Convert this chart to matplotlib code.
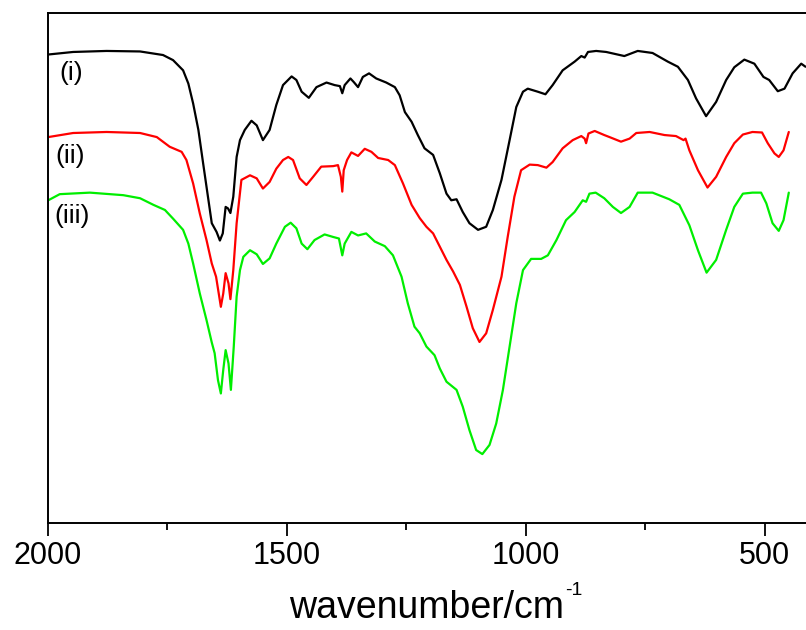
import numpy as np
import matplotlib
matplotlib.use("Agg")
import matplotlib.pyplot as plt
from matplotlib.ticker import MultipleLocator

plt.rcParams['font.family'] = ['Liberation Sans', 'DejaVu Sans']

# FTIR spectra (transmittance, arbitrary units, curves offset)
wn_i = [1999, 1947, 1877, 1807, 1759, 1738, 1717, 1706, 1696, 1685, 1675, 1665, 1657, 1647,
        1640, 1634, 1628, 1623, 1618, 1612, 1605, 1598, 1588, 1574, 1563, 1550, 1536, 1522,
        1508, 1490, 1480, 1469, 1454, 1438, 1417, 1400, 1389, 1384, 1379, 1367, 1360, 1351,
        1341, 1328, 1313, 1292, 1274, 1264, 1253, 1239, 1226, 1212, 1194, 1180, 1166, 1156,
        1145, 1132, 1118, 1100, 1083, 1069, 1051, 1034, 1020, 1006, 996, 975, 959, 944, 923,
        898, 884, 877, 870, 853, 832, 794, 766, 735, 703, 682, 661, 644, 623, 602, 581, 564,
        543, 522, 503, 491, 473, 459, 442, 424, 415]
t_i = [91.9, 92.4, 92.6, 92.5, 91.8, 90.8, 88.8, 86.2, 82.3, 77.1, 70.5, 64.0, 58.8, 57.1,
       55.4, 56.8, 62.0, 61.7, 60.8, 64.0, 71.8, 75.1, 77.1, 78.9, 78.0, 75.1, 77.1, 82.0,
       85.9, 87.6, 86.9, 84.6, 83.4, 85.5, 86.4, 85.9, 85.7, 84.3, 85.9, 87.2, 86.5, 85.5,
       87.5, 88.2, 87.2, 86.4, 85.5, 83.9, 80.6, 78.7, 76.1, 73.5, 72.2, 68.6, 64.6, 63.3,
       63.5, 61.0, 58.8, 57.5, 58.1, 61.4, 67.3, 75.1, 81.6, 84.6, 85.2, 84.6, 84.1, 85.9, 88.8,
       90.5, 91.6, 91.3, 92.4, 92.6, 92.4, 91.6, 92.6, 92.2, 90.5, 89.5, 86.9, 83.3, 79.8, 82.6,
       86.9, 89.4, 90.9, 90.1, 87.5, 86.9, 84.7, 85.2, 88.2, 90.1, 89.5]

wn_ii = [1999, 1947, 1877, 1807, 1772, 1745, 1720, 1710, 1696, 1682, 1668, 1657, 1648, 1638,
         1633, 1628, 1622, 1618, 1612, 1605, 1595, 1577, 1563, 1550, 1536, 1522, 1508, 1497,
         1487, 1473, 1459, 1445, 1428, 1403, 1393, 1387, 1384, 1381, 1374, 1365, 1351, 1337,
         1323, 1309, 1288, 1274, 1257, 1239, 1222, 1208, 1194, 1180, 1166, 1152, 1138, 1124,
         1111, 1097, 1083, 1069, 1051, 1038, 1024, 1010, 992, 975, 957, 944, 923, 902, 884,
         877, 874, 869, 856, 836, 825, 801, 783, 769, 741, 710, 686, 670, 666, 658, 640, 620,
         602, 581, 564, 546, 526, 506, 494, 480, 471, 461, 450]
t_ii = [75.7, 76.5, 76.7, 76.5, 75.7, 73.8, 72.8, 71.2, 66.6, 60.7, 55.5, 50.9, 48.3, 42.4,
        45.0, 49.0, 47.0, 43.9, 49.6, 58.8, 67.3, 68.2, 67.6, 65.6, 66.9, 69.5, 71.2, 71.8,
        71.2, 67.6, 66.3, 67.9, 69.9, 70.0, 70.2, 67.9, 65.0, 69.2, 71.2, 72.7, 72.0, 73.4,
        72.8, 71.6, 71.2, 70.2, 66.6, 62.4, 59.8, 58.1, 56.8, 54.2, 51.6, 49.3, 46.7, 42.4,
        38.2, 35.5, 37.2, 41.8, 48.3, 56.1, 64.0, 69.2, 70.3, 70.2, 69.7, 70.8, 73.5, 75.1, 75.9,
        75.4, 74.5, 76.4, 76.9, 76.1, 75.7, 74.8, 75.4, 76.5, 76.7, 76.1, 75.9, 75.1, 75.4, 73.1,
        69.2, 65.8, 67.9, 71.8, 74.5, 76.2, 76.7, 76.6, 74.5, 72.5, 71.8, 73.1, 76.7]

wn_iii = [1999, 1975, 1912, 1842, 1807, 1779, 1755, 1738, 1717, 1706, 1696, 1682, 1668, 1657,
          1651, 1644, 1638, 1633, 1628, 1622, 1617, 1611, 1605, 1598, 1591, 1577, 1563, 1550,
          1536, 1522, 1504, 1492, 1480, 1469, 1457, 1442, 1421, 1403, 1391, 1384, 1379, 1365,
          1351, 1334, 1316, 1295, 1278, 1260, 1247, 1233, 1222, 1208, 1191, 1180, 1166, 1145,
          1132, 1118, 1104, 1091, 1076, 1062, 1048, 1034, 1020, 1006, 989, 968, 954, 936, 916,
          898, 881, 874, 867, 854, 836, 818, 801, 783, 766, 735, 700, 679, 658, 640, 622, 602,
          581, 564, 546, 526, 508, 497, 484, 471, 461, 450]
t_iii = [63.3, 64.5, 64.8, 64.3, 63.7, 62.4, 61.4, 59.7, 57.5, 54.8, 50.9, 45.0, 39.8, 35.4,
         33.3, 28.0, 25.4, 30.0, 33.9, 31.3, 26.1, 34.6, 44.4, 49.6, 52.2, 53.5, 52.7, 50.8,
         51.9, 54.8, 58.1, 58.9, 57.8, 54.8, 53.7, 55.5, 56.6, 56.1, 55.8, 52.5, 54.8, 57.1,
         56.4, 56.8, 55.2, 54.3, 52.5, 48.3, 43.1, 38.5, 37.2, 34.6, 32.9, 30.3, 27.7, 26.1,
         22.8, 18.2, 14.3, 13.5, 15.3, 19.5, 26.1, 34.6, 43.1, 49.6, 51.8, 51.8, 52.5, 55.5, 59.4,
         61.0, 63.3, 63.0, 64.6, 64.8, 63.7, 62.0, 60.8, 62.0, 64.8, 64.8, 63.5, 62.4, 58.4, 53.5,
         49.1, 51.6, 57.5, 62.0, 64.6, 64.8, 64.8, 62.7, 58.8, 57.3, 59.4, 64.8]

labels = ['(i)', '(ii)', '(iii)']
label_pos = [(1951, 88.2), (1954, 72.0), (1949, 60.2)]
colors = ['black', 'red', '#00ee00']

fig = plt.figure(figsize=(8.06, 6.3), dpi=100)
ax = fig.add_axes([0.0593, 0.170, 0.9407, 0.809])

for wn, t, c in zip([wn_i, wn_ii, wn_iii], [t_i, t_ii, t_iii], colors):
    ax.plot(wn, t, color=c, lw=1.6, solid_joinstyle='round', solid_capstyle='round')

for lab, (x, y) in zip(labels, label_pos):
    ax.text(x, y, lab, fontsize=19, ha='center', va='center')

ax.set_xlim(2000, 414)
ax.set_ylim(0, 100)
ax.set_yticks([])
ax.xaxis.set_major_locator(MultipleLocator(500))
ax.xaxis.set_minor_locator(MultipleLocator(250))
ax.tick_params(axis='x', which='major', direction='out', length=9, width=1.3,
               labelsize=22, pad=4)
ax.tick_params(axis='x', which='minor', direction='out', length=5, width=1.3)
for s in ['left', 'top', 'bottom']:
    ax.spines[s].set_linewidth(1.4)
ax.spines['right'].set_visible(False)

xl = ax.set_xlabel('wavenumber/cm', fontsize=27, labelpad=14)

# superscript "-1" placed after the axis label
fig.canvas.draw()
bb = xl.get_window_extent()
fig.text(bb.x1 + 1, bb.y1 + 8, '-1', fontsize=14, ha='left', va='top',
         transform=None)

fig.savefig('out.png', dpi=100)
